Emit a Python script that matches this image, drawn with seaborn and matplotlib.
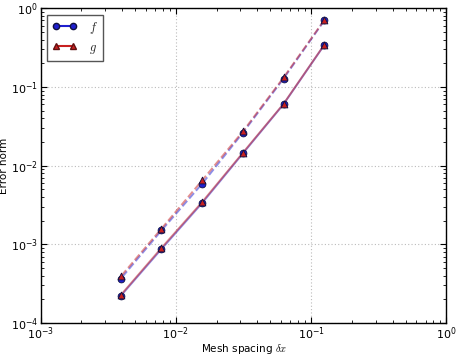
import matplotlib
matplotlib.use("Agg")
import matplotlib.pyplot as plt
from matplotlib.lines import Line2D
import numpy as np
import pandas as pd
import seaborn as sns

# mesh spacings and error norms
dx = [1/8, 1/16, 1/32, 1/64, 1/128, 1/256]
f_l2 = [0.342, 0.0605, 0.0143, 0.00335, 0.00087, 0.000221]
g_l2 = [0.345, 0.0612, 0.0146, 0.00345, 0.00090, 0.000226]
f_inf = [0.700, 0.128, 0.0262, 0.0059, 0.00150, 0.000365]
g_inf = [0.710, 0.132, 0.0272, 0.0065, 0.00158, 0.000390]

sns.set_style("ticks")
plt.rcParams.update({
    "font.family": ["DejaVu Sans"],
    "mathtext.fontset": "cm",
    "xtick.direction": "in", "ytick.direction": "in",
    "xtick.top": True, "ytick.right": True,
    "xtick.major.size": 4, "ytick.major.size": 4,
    "xtick.minor.size": 2, "ytick.minor.size": 2,
    "xtick.major.pad": 2, "ytick.major.pad": 2,
    "xtick.labelsize": 8, "ytick.labelsize": 8,
    "xtick.color": "black", "ytick.color": "black",
    "axes.labelcolor": "black",
    "axes.edgecolor": "black", "axes.linewidth": 1.0,
})

fig = plt.figure(figsize=(4.57, 3.56), dpi=100)
ax = fig.add_axes([0.089, 0.0927, 0.977 - 0.089, 0.9767 - 0.0927])

series = [
    ("f", "l2", f_l2, "#1f1fd0", "o", "-"),
    ("g", "l2", g_l2, "#c82020", "^", "-"),
    ("f", "inf", f_inf, "#1f1fd0", "o", "--"),
    ("g", "inf", g_inf, "#c82020", "^", "--"),
]

for name, norm, vals, col, mk, ls in series:
    df = pd.DataFrame({"dx": dx, "err": vals})
    sns.lineplot(data=df, x="dx", y="err", ax=ax, color=col, linestyle=ls,
                 linewidth=1.4, alpha=0.5, sort=False)
for name, norm, vals, col, mk, ls in series:
    df = pd.DataFrame({"dx": dx, "err": vals})
    sns.scatterplot(data=df, x="dx", y="err", ax=ax, color=col, marker=mk,
                    s=24, edgecolor="#101040", linewidth=0.6, zorder=5)

ax.set_xscale("log")
ax.set_yscale("log")
ax.set_xlim(1e-3, 1e0)
ax.set_ylim(1e-4, 1e0)
ax.grid(True, which="major", linestyle=(0, (1, 2)), color="#bbbbbb", linewidth=0.8)
ax.set_xlabel(r"Mesh spacing $\delta x$", fontsize=7.5, labelpad=0)
ax.set_ylabel("Error norm", fontsize=7.5, labelpad=1)

handles = [
    Line2D([0], [0], color="#1f1fd0", marker="o", markersize=4.5,
           markeredgecolor="#101040", label="$f$"),
    Line2D([0], [0], color="#c82020", marker="^", markersize=4.5,
           markeredgecolor="#601010", label="$g$"),
]
leg = ax.legend(handles=handles, loc="upper left", numpoints=2, fontsize=9,
                fancybox=False, framealpha=1, edgecolor="#555555",
                handlelength=2.0, borderpad=0.4, labelspacing=0.4,
                handletextpad=1.0, borderaxespad=0.5)

fig.savefig("out.png", dpi=100)
